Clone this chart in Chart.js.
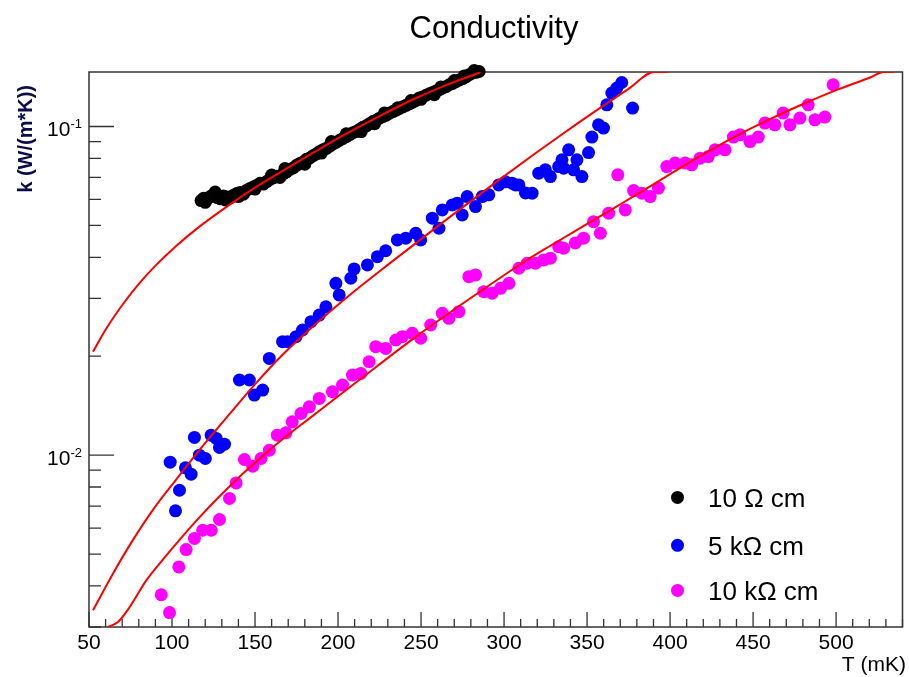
<!DOCTYPE html>
<html><head><meta charset="utf-8">
<script src="https://cdn.jsdelivr.net/npm/chart.js@4.4.0/dist/chart.umd.min.js"></script>
<style>html,body{margin:0;padding:0;background:#fff;}canvas{display:block;}</style>
</head><body>
<canvas id="c" width="909" height="677"></canvas>
<script>
// ---------- data ----------
const titleText = 'Conductivity';
const xTitle = 'T (mK)';
const yTitle = 'k (W/(m*K))';
const seriesLabels = ['10 \u03A9 cm', '5 k\u03A9 cm', '10 k\u03A9 cm'];
const seriesColors = ['#000000', '#0000ff', '#ff00ff'];

const xTickLabels = [50, 100, 150, 200, 250, 300, 350, 400, 450, 500];
const yTickValues = [0.01, 0.1];
const yTickExps = ['-2', '-1'];

// 10 Ohm cm (black)
const blackT = [117.5,119,121,123,125,127,129,131,133,135,137,139,141,143,145,147,149,151,153,155,157,159,161,163,165,167,169,171,173,175,177,179,181,183,185,187,189,191,193,195,197,199,201,203,205,207,209,211,213,215,217,219,221,223,225,227,229,231,233,235,237,239,241,243,245,247,249,251,253,255,257,259,261,263,265,267,269,271,273,275,277,279,281,283,285,
  120,126,132,150,168,180,196,214,228,244,258,270,282,140,160,190,205,222,236,250,262,276];
const blackK = [0.0595,0.0605,0.0600,0.0612,0.0620,0.0608,0.0603,0.0615,0.0610,0.0606,0.0618,0.0625,0.0630,0.0622,0.0640,0.0648,0.0655,0.0662,0.0672,0.0668,0.0680,0.0690,0.0698,0.0706,0.0700,0.0718,0.0728,0.0740,0.0748,0.0762,0.0772,0.0780,0.0795,0.0802,0.0815,0.0826,0.0840,0.0850,0.0858,0.0872,0.0885,0.0896,0.0908,0.0920,0.0932,0.0945,0.0958,0.0966,0.0980,0.0995,0.1005,0.1020,0.1035,0.1045,0.1060,0.1072,0.1082,0.1098,0.1110,0.1122,0.1135,0.1148,0.1160,0.1172,0.1185,0.1200,0.1222,0.1230,0.1245,0.1258,0.1270,0.1282,0.1295,0.1310,0.1322,0.1340,0.1352,0.1368,0.1385,0.1398,0.1415,0.1438,0.1455,0.1462,0.1470,
  0.0588,0.0632,0.0598,0.0645,0.0745,0.0768,0.0900,0.0965,0.1100,0.1200,0.1250,0.1380,0.1480,0.0612,0.0712,0.0830,0.0950,0.1020,0.1140,0.1210,0.1320,0.1425];

// 5 kOhm cm (blue)
const blueT = [98.9,102.1,104.5,108.1,111.5,113.5,116.5,120.1,123.6,126.6,128.6,131.6,140.6,146.6,149.6,154.6,158.6,166.6,169.6,174.7,178.6,183.7,188.7,192.7,198.7,200.7,207.7,209.7,217.7,223.7,228.7,235.7,240.8,246.8,249.8,256.8,260.8,262.8,268.8,271.8,274.8,277.8,282.8,286.8,290.8,296.8,300.9,304.8,306.9,308.9,312.9,316.9,320.9,324.9,327.9,332.9,334.9,335.9,338.9,341.9,343.9,346.9,350.9,352.9,356.9,359.9,361.9,364.9,367.9,370.9,377.4];
const blueK = [0.00952,0.00677,0.00782,0.00915,0.00875,0.01132,0.0100,0.00977,0.0115,0.01124,0.01055,0.0108,0.01693,0.01693,0.01523,0.01578,0.0197,0.02214,0.02214,0.02293,0.02403,0.02547,0.02669,0.02829,0.03334,0.03073,0.03453,0.03686,0.03791,0.04018,0.04188,0.04518,0.04572,0.04734,0.04518,0.0526,0.04902,0.05575,0.05774,0.05843,0.05383,0.06119,0.05705,0.06119,0.06194,0.06643,0.06785,0.06723,0.06643,0.06643,0.06281,0.06268,0.07213,0.07381,0.07041,0.07554,0.07917,0.07469,0.08492,0.07381,0.07917,0.07041,0.08333,0.09283,0.1012,0.0989,0.1164,0.1264,0.1309,0.1361,0.1138];

// 10 kOhm cm (magenta)
const magT = [93.5,98.5,104.1,108.5,113.5,118.5,123.6,128.6,134.6,138.6,143.6,148.6,153.6,158.6,163.4,168.6,172.4,177.7,182.7,188.7,196.6,202.7,208.7,213.7,218.7,222.7,228.7,234.8,238.7,244.7,249.8,255.8,262.8,266.8,272.8,278.8,282.8,287.8,292.8,297.9,302.9,308.9,313.9,318.9,323.9,327.9,332.9,335.9,342.9,347.9,353.9,358,363,368.5,373,378,383,388,393,398,403,409.1,413,418.1,423,427.1,433.1,438.1,442.1,448.1,453.1,457.1,463.1,468.1,472.2,478.2,483.2,487.2,493.2,498.2];
const magK = [0.00376,0.00332,0.00457,0.00516,0.00558,0.00591,0.00591,0.00637,0.00738,0.00823,0.0097,0.00926,0.00977,0.01035,0.0115,0.01169,0.01263,0.0134,0.01403,0.01488,0.01559,0.01634,0.01752,0.01773,0.01924,0.02138,0.02113,0.02241,0.02293,0.02349,0.02268,0.02489,0.02702,0.02609,0.02733,0.03492,0.03534,0.03144,0.03109,0.03219,0.03334,0.03704,0.03837,0.03837,0.03926,0.03974,0.0431,0.04262,0.04423,0.04572,0.05135,0.04734,0.05447,0.07128,0.05575,0.06384,0.06268,0.06119,0.06494,0.07554,0.07737,0.07737,0.07645,0.0801,0.08101,0.08492,0.08492,0.09283,0.09434,0.0900,0.09283,0.1024,0.1012,0.1099,0.1012,0.1061,0.1164,0.1048,0.1068,0.134];

// fitted curves (red)
const fit1T = [52.4,60.5,70.4,80.5,90.5,102.5,116.5,132.6,148.6,164.6,184.6,204.7,224.7,244.7,265,285.8];
const fit1K = [0.02064,0.02432,0.02879,0.03342,0.03792,0.0433,0.04958,0.05687,0.06446,0.07227,0.08297,0.09489,0.1074,0.1206,0.1336,0.1463];
const fit2T = [52.4,64.4,76.4,88.5,102.5,112.5,124.5,134.6,150.6,166.6,186.7,206.7,230.7,266.8,296.8,318.9,336.9,355,375,390.5,398.5];
const fit2K = [0.003373,0.00436,0.005514,0.006815,0.008431,0.00977,0.0116,0.01333,0.01657,0.02021,0.02512,0.03062,0.03819,0.05281,0.06866,0.0829,0.09625,0.1114,0.1302,0.1465,0.1465];
const fit3T = [61.4,67.4,74.5,84.5,94.5,104.5,116.5,128.5,142.6,156.6,168.6,182.6,212.7,246.8,286.8,312.9,326.9,364.9,381,401,421.1,441.1,461.1,481.2,501.2,521.2,528.5,535];
const fit3K = [0.0030,0.003106,0.00345,0.00416,0.004811,0.005523,0.006466,0.007484,0.008776,0.01015,0.01139,0.01292,0.01693,0.02291,0.03177,0.03897,0.04306,0.05598,0.06258,0.07218,0.08294,0.09434,0.1059,0.1177,0.1297,0.1415,0.1465,0.1465];

// ---------- build ----------
const pts = (xs, ys) => xs.map((x, i) => ({x: x, y: ys[i]}));
const FONT = "'Liberation Sans', Arial, Helvetica, sans-serif";

function lineDs(xs, ys) {
  return {type: 'line', data: pts(xs, ys), borderColor: '#ff0000', borderWidth: 2,
    pointRadius: 0, pointHoverRadius: 0, fill: false, cubicInterpolationMode: 'monotone', order: 0};
}
function pointDs(xs, ys, i) {
  return {type: 'scatter', label: seriesLabels[i], data: pts(xs, ys), backgroundColor: seriesColors[i],
    borderColor: seriesColors[i], pointRadius: 6.5, pointHoverRadius: 6.5, pointBorderWidth: 0,
    borderWidth: 0, showLine: false, clip: false, order: 1};
}

const rootAxes = {
  id: 'rootAxes',
  beforeDatasetsDraw(chart) {
    const c = chart.ctx, a = chart.chartArea, xs = chart.scales.x, ys = chart.scales.y;
    c.save();
    c.strokeStyle = '#333';
    c.lineWidth = 1.5;
    c.strokeRect(a.left, a.top, a.right - a.left, a.bottom - a.top);
    c.lineWidth = 1.3;
    c.beginPath();
    for (let v = xs.min; v <= xs.max + 1e-9; v += 10) {
      const px = xs.getPixelForValue(v);
      const len = (Math.round(v) % 50 === 0) ? 15 : 8;
      c.moveTo(px, a.bottom); c.lineTo(px, a.bottom - len);
    }
    [0.001, 0.01, 0.1].forEach(d => {
      for (let m = 1; m <= 9; m++) {
        const v = m * d;
        if (v < ys.min * 0.999 || v > ys.max) continue;
        const py = ys.getPixelForValue(v);
        const len = m === 1 ? 25 : 12;
        c.moveTo(a.left, py); c.lineTo(a.left + len, py);
      }
    });
    c.stroke();
    c.restore();
  },
  afterDraw(chart) {
    const c = chart.ctx, xs = chart.scales.x, ys = chart.scales.y;
    c.save();
    c.fillStyle = '#000';
    c.font = '21px ' + FONT;
    c.textAlign = 'center'; c.textBaseline = 'alphabetic';
    xTickLabels.forEach(v => c.fillText(String(v), xs.getPixelForValue(v), 648.5));
    yTickValues.forEach((v, i) => {
      const py = ys.getPixelForValue(v);
      c.font = '13px ' + FONT;
      const supW = c.measureText(yTickExps[i]).width;
      c.textAlign = 'left';
      c.fillText(yTickExps[i], 82 - supW, py + 1.5);
      c.font = '21px ' + FONT;
      c.textAlign = 'right';
      c.fillText('10', 82 - supW, py + 9.5);
    });
    c.font = '31px ' + FONT;
    c.textAlign = 'center';
    c.fillText(titleText, 494, 37.5);
    c.font = '21px ' + FONT;
    c.textAlign = 'right';
    c.fillText(xTitle, 906, 671);
    c.save();
    c.translate(32, 85);
    c.rotate(-Math.PI / 2);
    c.font = 'bold 20px ' + FONT;
    c.fillStyle = '#0c0c4a';
    c.textAlign = 'right';
    c.fillText(yTitle, 0, 0);
    c.restore();
    const rows = [497.4, 545.3, 590.4];
    c.font = '26px ' + FONT;
    c.textAlign = 'left';
    seriesLabels.forEach((lab, i) => {
      c.fillStyle = seriesColors[i];
      c.beginPath(); c.arc(677.5, rows[i], 6.5, 0, Math.PI * 2); c.fill();
      c.fillStyle = '#000';
      c.fillText(lab, 708, rows[i] + 9.3);
    });
    c.restore();
  }
};

new Chart(document.getElementById('c').getContext('2d'), {
  type: 'scatter',
  data: {datasets: [
    lineDs(fit1T, fit1K), lineDs(fit2T, fit2K), lineDs(fit3T, fit3K),
    pointDs(blackT, blackK, 0), pointDs(blueT, blueK, 1), pointDs(magT, magK, 2)
  ]},
  options: {
    responsive: false, animation: false, devicePixelRatio: 1, events: [],
    layout: {padding: {left: 89, right: 4, top: 72, bottom: 50}},
    scales: {
      x: {type: 'linear', min: 50, max: 540, display: false},
      y: {type: 'logarithmic', min: 0.003, max: 0.1465, display: false}
    },
    plugins: {legend: {display: false}, tooltip: {enabled: false}, title: {display: false}}
  },
  plugins: [rootAxes]
});
</script>
</body></html>
